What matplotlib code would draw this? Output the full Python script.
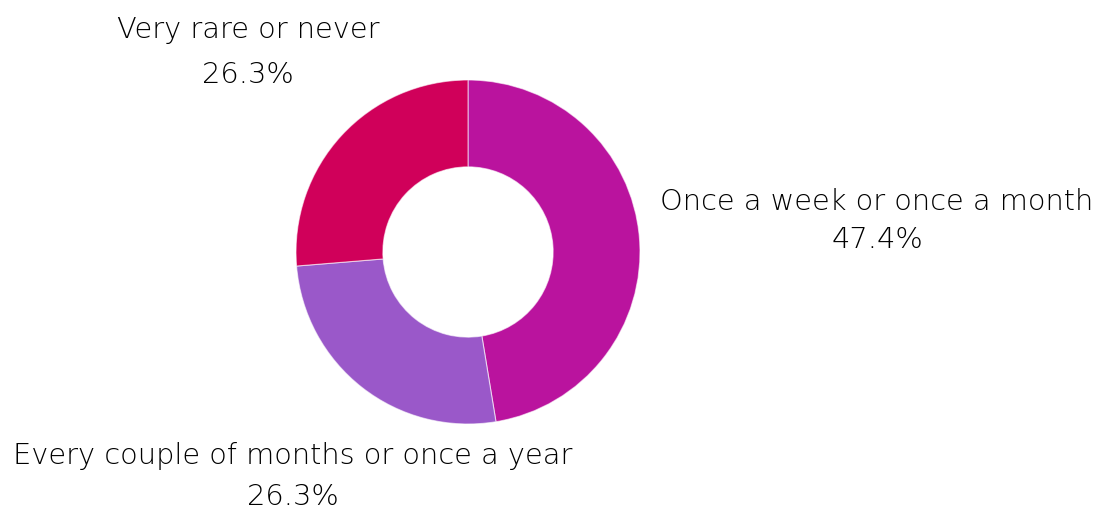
import matplotlib
matplotlib.use("Agg")
import matplotlib.pyplot as plt

# Survey answers and their shares (percent)
categories = ["Once a week or once a month",
              "Every couple of months or once a year",
              "Very rare or never"]
shares = [47.4, 26.3, 26.3]
colors = ["#BA139E", "#9A58C9", "#D0005A"]

W, H = 1106, 511
fig = plt.figure(figsize=(W / 100, H / 100), dpi=100)
ax = fig.add_axes([0, 0, 1, 1])

cx, cy, r = 468, H - 252, 172
ax.pie(shares, colors=colors, startangle=90, counterclock=False,
       center=(cx, cy), radius=r, frame=True,
       wedgeprops=dict(width=r * 0.505, edgecolor=(1, 1, 1, 0.6), linewidth=0.8))
ax.set_xlim(0, W)
ax.set_ylim(0, H)
ax.set_aspect("equal")
ax.axis("off")

font = dict(family=["DejaVu Sans"], fontsize=20.8, color="#000000",
            ha="center", va="center", fontweight="light")

# label anchor positions (pixels from the top-left)
label_pos = [(877, 202, 240), (293, 456, 497), (248, 30, 75)]
for name, val, (x, y1, y2) in zip(categories, shares, label_pos):
    ax.text(x, H - y1, name, **font)
    ax.text(x, H - y2, f"{val:.1f}%", **font)

fig.savefig("out.png", dpi=100)
